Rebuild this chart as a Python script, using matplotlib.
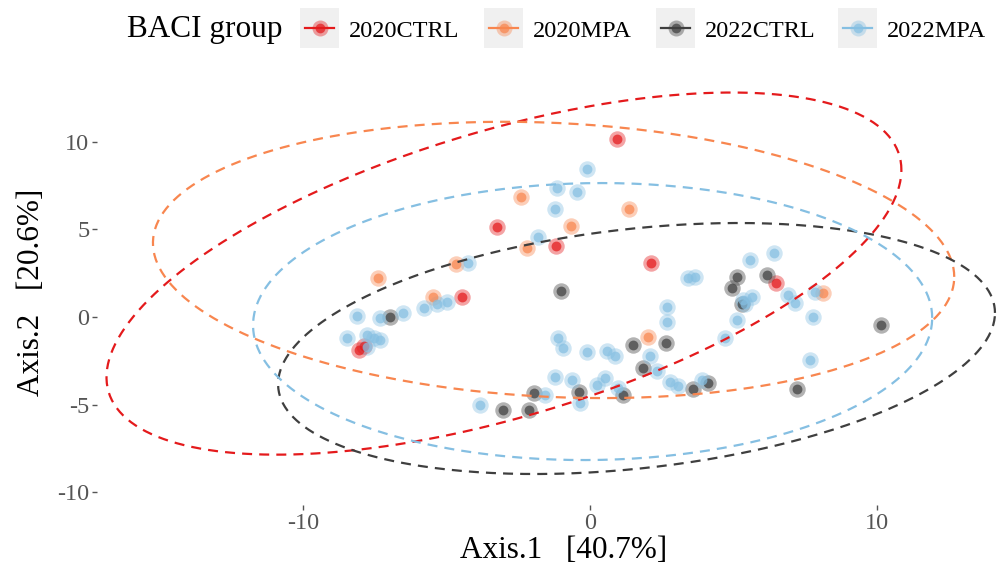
import numpy as np
import matplotlib
matplotlib.use("Agg")
import matplotlib.pyplot as plt
from matplotlib.patches import Rectangle
from matplotlib.lines import Line2D

# ---- PCoA scores by BACI group -------------------------------------------
groups = ["2020CTRL", "2020MPA", "2022CTRL", "2022MPA"]
colors = ["#E41A1C", "#F8864F", "#3F3F3F", "#85BFE2"]

ctrl20_x = [0.94, -3.24, -1.18, 2.13, -4.46, 6.48, -8.05, -7.87]
ctrl20_y = [10.17, 5.14, 4.06, 3.09, 1.14, 1.94, -1.89, -1.66]

mpa20_x = [-2.40, -0.66, 1.36, -2.20, -4.67, -7.39, -5.47, 2.02, 8.12]
mpa20_y = [6.86, 5.20, 6.17, 3.94, 3.03, 2.23, 1.14, -1.14, 1.37]

ctrl22_x = [-1.01, -6.97, 1.50, 2.65, 1.85, -1.95, -0.38, -3.03, -2.13,
            1.15, 3.59, 4.11, 5.12, 4.95, 6.17, 5.30, 7.21, 10.14]
ctrl22_y = [1.49, 0.00, -1.60, -1.49, -2.91, -4.34, -4.29, -5.31, -5.31,
            -4.46, -4.11, -3.77, 2.29, 1.66, 2.40, 0.74, -4.11, -0.46]

mpa22_x = [-0.10, -1.15, -0.45, -1.22, -1.81, -4.25, -8.12, -7.32, -6.52,
           -5.78, -5.33, -4.98, -8.47, -7.77, -7.53, -7.32, -7.77, -1.11,
           -0.94, -0.10, 0.59, 0.87, 2.09, 2.33, 2.79, 3.07, -1.22, -0.63,
           0.24, 0.52, 0.98, -1.57, -0.35, -3.83, 2.68, 2.68, 3.41, 3.66,
           5.57, 6.41, 5.33, 5.64, 5.40, 6.90, 7.14, 7.84, 7.77, 5.12,
           4.70, 7.67, 3.90]
mpa22_y = [8.46, 7.37, 7.14, 6.17, 4.57, 3.09, 0.06, -0.06, 0.23,
           0.51, 0.74, 0.86, -1.20, -1.03, -1.20, -1.31, -1.71, -1.20,
           -1.77, -2.00, -1.94, -2.23, -2.23, -3.09, -3.71, -3.94, -3.43, -3.60,
           -3.89, -3.49, -4.06, -4.46, -4.91, -5.03, 0.57, -0.29, 2.23, 2.29,
           3.26, 3.66, 0.97, 1.14, 0.74, 1.26, 0.80, 1.43, 0.00, -0.17,
           -1.20, -2.46, -3.60]

xs = [ctrl20_x, mpa20_x, ctrl22_x, mpa22_x]
ys = [ctrl20_y, mpa20_y, ctrl22_y, mpa22_y]

# 95% ellipses per group: centre and covariance (sxx, syy, sxy)
ell_cx = [-3.00, -1.27, 1.62, 0.09]
ell_cy = [2.48, 3.26, -1.80, -0.26]
ell_sxx = [191.8, 194.9, 156.0, 140.0]
ell_syy = [107.0, 62.3, 51.4, 62.6]
ell_sxy = [82.0, -13.5, 25.4, 2.5]

x_ticks = [-10, 0, 10]
y_ticks = [-10, -5, 0, 5, 10]
x_title = "Axis.1   [40.7%]"
y_title = "Axis.2   [20.6%]"
legend_title = "BACI group"

# ---- figure ---------------------------------------------------------------
W, H = 1001, 563
plt.rcParams["font.family"] = ["Liberation Serif", "DejaVu Serif"]
fig = plt.figure(figsize=(W / 100, H / 100), dpi=100)
fig.patch.set_facecolor("white")

left, right, top, bottom = 97, 1001, 80, 505
ax = fig.add_axes([left / W, 1 - bottom / H, (right - left) / W, (bottom - top) / H])
ax.set_xlim(-17.18, 14.32)
ax.set_ylim(-10.74, 13.54)
for s in ax.spines.values():
    s.set_visible(False)

tick_col = "#555555"
ax.set_xticks(x_ticks)
ax.set_yticks(y_ticks)
ax.set_xticklabels([str(v) for v in x_ticks])
ax.set_yticklabels([str(v) for v in y_ticks])
ax.tick_params(axis="both", colors="#555555", labelcolor=tick_col,
               labelsize=17.5, length=3.5, width=1.0, pad=2)

ax.set_xlabel(x_title, fontsize=22.5, color="black")
ax.set_ylabel(y_title, fontsize=22.5, color="black", labelpad=8)
ax.xaxis.set_label_coords((564 - left) / (right - left), -0.072)

# points: translucent halo with a denser core
for gx, gy, c in zip(xs, ys, colors):
    ax.scatter(gx, gy, s=140, color=c, alpha=0.4, linewidths=0, zorder=2)
    ax.scatter(gx, gy, s=50, color=c, alpha=0.72, linewidths=0, zorder=3)

# dashed confidence ellipses
t = np.linspace(0, 2 * np.pi, 400)
circle = np.vstack([np.cos(t), np.sin(t)])
for cx, cy, sxx, syy, sxy, c in zip(ell_cx, ell_cy, ell_sxx, ell_syy, ell_sxy, colors):
    L = np.linalg.cholesky(np.array([[sxx, sxy], [sxy, syy]]))
    pts = L @ circle
    ax.plot(cx + pts[0], cy + pts[1], color=c, lw=1.6, linestyle=(0, (4.5, 3.2)),
            zorder=4)

# ---- legend across the top -------------------------------------------------
def fx(px):
    return px / W


def fy(py):
    return 1 - py / H


baseline = 37
fig.text(fx(127), fy(baseline), legend_title, fontsize=22.5, color="black",
         va="baseline", ha="left")
key_x = [300, 484, 656, 838]
key_w, key_top, key_bot = 39, 8, 48
for kx, g, c in zip(key_x, groups, colors):
    fig.patches.append(Rectangle((fx(kx), fy(key_bot)), key_w / W, (key_bot - key_top) / H,
                                 transform=fig.transFigure, facecolor="#F0F0F0",
                                 edgecolor="none"))
    ymid = fy((key_top + key_bot) / 2)
    fig.lines.append(Line2D([fx(kx + 5), fx(kx + key_w - 5)], [ymid, ymid],
                            transform=fig.transFigure, color=c, lw=1.6))
    fig.lines.append(Line2D([fx(kx + key_w / 2)], [ymid], transform=fig.transFigure,
                            marker="o", markersize=11.5, color=c, alpha=0.4,
                            markeredgewidth=0, linestyle="none"))
    fig.lines.append(Line2D([fx(kx + key_w / 2)], [ymid], transform=fig.transFigure,
                            marker="o", markersize=7, color=c, alpha=0.72,
                            markeredgewidth=0, linestyle="none"))
    fig.text(fx(kx + key_w + 10), fy(baseline), g, fontsize=17.5, color="black",
             va="baseline", ha="left")

fig.savefig("out.png", dpi=100, facecolor="white")
